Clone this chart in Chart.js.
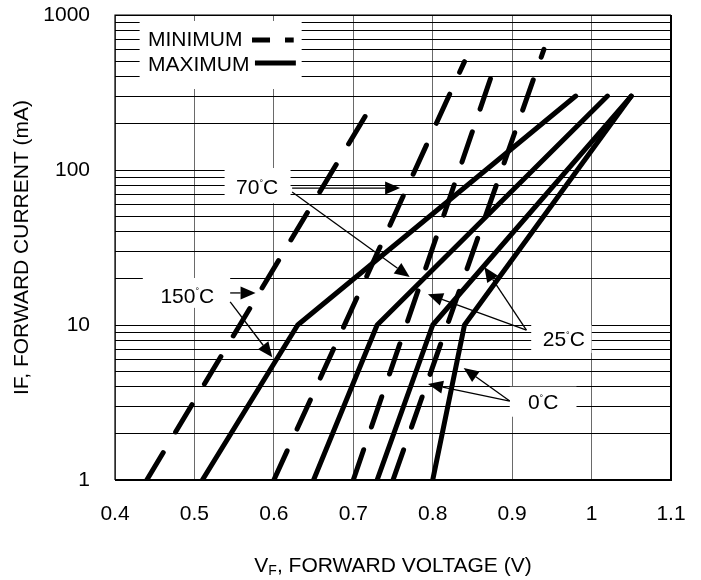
<!DOCTYPE html>
<html>
<head>
<meta charset="utf-8">
<script src="https://cdn.jsdelivr.net/npm/chart.js@4.4.0/dist/chart.umd.min.js"></script>
<style>
  html, body { margin: 0; padding: 0; background: #fff; }
</style>
</head>
<body>
<canvas id="vfChart" width="701" height="580"></canvas>
<script>
// forward voltage (V) vs forward current (mA), min (dashed) / max (solid) per temperature
const vfMin150 = [0.44, 0.72];
const ifMin150 = [1, 245];
const vfMax150 = [0.51, 0.63, 0.98];
const ifMax150 = [1, 10, 300];

const vfMin70 = [0.60, 0.84];
const ifMin70 = [1, 500];
const vfMax70 = [0.65, 0.73, 1.02];
const ifMax70 = [1, 10, 300];

const vfMin25 = [0.70, 0.875];
const ifMin25 = [1, 420];
const vfMax25 = [0.73, 0.80, 1.05];
const ifMax25 = [1, 10, 300];

const vfMin0 = [0.75, 0.94];
const ifMin0 = [1, 600];
const vfMax0 = [0.80, 0.84, 1.05];
const ifMax0 = [1, 10, 300];

const xTicks = [0.4, 0.5, 0.6, 0.7, 0.8, 0.9, 1.0, 1.1];
const yDecades = [1, 10, 100, 1000];

const tempLabels = ['150', '70', '25', '0'];
const legendLabels = ['MINIMUM', 'MAXIMUM'];

// annotation layout, in axis units (V, mA)
const labelAt = [[0.491, 15.2], [0.579, 76.5], [0.965, 8.0], [0.939, 3.13]];
const labelBox = [[0.435, 0.545, 12.9, 20.1], [0.538, 0.621, 61, 103], [0.924, 1.0, 6.6, 10], [0.897, 0.981, 2.56, 4.0]];
const arrows = [
  [[0.545, 16.1], [0.577, 16.1]], [[0.545, 14.1], [0.598, 6.2]],
  [[0.623, 76.5], [0.759, 76.5]], [[0.623, 72.1], [0.771, 20.4]],
  [[0.918, 9.28], [0.865, 23.7]], [[0.918, 9.28], [0.794, 15.8]],
  [[0.897, 3.23], [0.794, 4.16]], [[0.897, 3.23], [0.839, 5.28]]
];
const legendBox = [0.431, 0.635, 333, 915];

const FONT = '"Liberation Sans", Arial, sans-serif';
Chart.defaults.font.family = FONT;
Chart.defaults.font.size = 21;
Chart.defaults.color = '#000';

function pts(xs, ys) {
  return xs.map((x, i) => ({x: x, y: ys[i]}));
}

function curve(xs, ys, dashed) {
  return {
    data: pts(xs, ys),
    borderColor: '#000',
    borderWidth: 5,
    borderDash: dashed ? [32, 24] : [],
    borderCapStyle: 'round',
    borderJoinStyle: 'round',
    pointRadius: 0,
    fill: false,
    tension: 0,
    clip: 0
  };
}

// minor log grid: 1..9 in each decade
const yGrid = [];
yDecades.slice(0, -1).forEach(d => { for (let k = 1; k < 10; k++) yGrid.push(d * k); });
yGrid.push(yDecades[yDecades.length - 1]);

function arrow(ctx, x0, y0, x1, y1) {
  const a = Math.atan2(y1 - y0, x1 - x0);
  const hl = 15, hw = 6.5;
  ctx.beginPath();
  ctx.moveTo(x0, y0);
  ctx.lineTo(x1 - hl * Math.cos(a), y1 - hl * Math.sin(a));
  ctx.stroke();
  ctx.beginPath();
  ctx.moveTo(x1, y1);
  ctx.lineTo(x1 - hl * Math.cos(a) + hw * Math.sin(a), y1 - hl * Math.sin(a) - hw * Math.cos(a));
  ctx.lineTo(x1 - hl * Math.cos(a) - hw * Math.sin(a), y1 - hl * Math.sin(a) + hw * Math.cos(a));
  ctx.closePath();
  ctx.fill();
}

// "70°C" with a tiny raised degree ring, centred on (cx, cy)
function tempText(ctx, num, cx, cy) {
  const big = '21px ' + FONT, small = '9px ' + FONT;
  ctx.font = big;
  const wn = ctx.measureText(num).width, wc = ctx.measureText('C').width;
  ctx.font = small;
  const wd = ctx.measureText('°').width;
  let x = cx - (wn + wd + wc) / 2;
  ctx.textAlign = 'left';
  ctx.textBaseline = 'middle';
  ctx.font = big;
  ctx.fillText(num, x, cy);
  ctx.font = small;
  ctx.fillText('°', x + wn, cy - 5);
  ctx.font = big;
  ctx.fillText('C', x + wn + wd, cy);
}

const annoPlugin = {
  id: 'anno',
  beforeDatasetsDraw(chart) {
    const ctx = chart.ctx, xs = chart.scales.x, ys = chart.scales.y;
    ctx.save();
    ctx.fillStyle = '#fff';
    labelBox.concat([legendBox]).forEach(b => {
      const l = xs.getPixelForValue(b[0]), r = xs.getPixelForValue(b[1]);
      const t = ys.getPixelForValue(b[3]), bt = ys.getPixelForValue(b[2]);
      ctx.fillRect(l, t, r - l, bt - t);
    });
    ctx.restore();
  },
  afterDatasetsDraw(chart) {
    const ctx = chart.ctx, xs = chart.scales.x, ys = chart.scales.y;
    ctx.save();
    ctx.fillStyle = '#000';
    ctx.strokeStyle = '#000';
    tempLabels.forEach((t, i) => {
      tempText(ctx, t, xs.getPixelForValue(labelAt[i][0]), ys.getPixelForValue(labelAt[i][1]));
    });
    ctx.lineWidth = 1.3;
    arrows.forEach(a => {
      arrow(ctx, xs.getPixelForValue(a[0][0]), ys.getPixelForValue(a[0][1]),
        xs.getPixelForValue(a[1][0]), ys.getPixelForValue(a[1][1]));
    });

    // legend
    const lx = xs.getPixelForValue(0.4415);
    const y1 = ys.getPixelForValue(690), y2 = ys.getPixelForValue(476);
    ctx.font = '21px ' + FONT;
    ctx.textAlign = 'left';
    ctx.textBaseline = 'middle';
    ctx.fillText(legendLabels[0], lx, y1);
    ctx.fillText(legendLabels[1], lx, y2);
    ctx.lineWidth = 5;
    ctx.lineCap = 'butt';
    ctx.setLineDash([18, 15]);
    ctx.beginPath();
    ctx.moveTo(xs.getPixelForValue(0.5725), y1);
    ctx.lineTo(xs.getPixelForValue(0.625), y1);
    ctx.stroke();
    ctx.setLineDash([]);
    ctx.beginPath();
    ctx.moveTo(xs.getPixelForValue(0.5762), y2 - 2);
    ctx.lineTo(xs.getPixelForValue(0.6277), y2 - 2);
    ctx.stroke();
    ctx.restore();
  },
  afterDraw(chart) {
    const ctx = chart.ctx, ca = chart.chartArea;
    ctx.save();
    ctx.strokeStyle = '#000';
    ctx.lineWidth = 1.2;
    ctx.beginPath();
    ctx.moveTo(ca.left, ca.bottom);
    ctx.lineTo(ca.left, ca.top);
    ctx.lineTo(ca.right, ca.top);
    ctx.stroke();
    ctx.lineWidth = 2;
    ctx.beginPath();
    ctx.moveTo(ca.left, ca.bottom);
    ctx.lineTo(ca.right, ca.bottom);
    ctx.lineTo(ca.right, ca.top);
    ctx.stroke();

    // axis titles
    ctx.fillStyle = '#000';
    ctx.font = '21px ' + FONT;
    ctx.textBaseline = 'middle';
    ctx.textAlign = 'center';
    ctx.save();
    ctx.translate(22, (ca.top + ca.bottom) / 2);
    ctx.rotate(-Math.PI / 2);
    ctx.fillText('IF, FORWARD CURRENT (mA)', 0, 0);
    ctx.restore();

    ctx.textAlign = 'left';
    ctx.textBaseline = 'alphabetic';
    const big = '21px ' + FONT, small = '14px ' + FONT;
    const rest = ', FORWARD VOLTAGE (V)';
    ctx.font = big;
    const wV = ctx.measureText('V').width, wR = ctx.measureText(rest).width;
    ctx.font = small;
    const wF = ctx.measureText('F').width;
    let x = (ca.left + ca.right) / 2 - (wV + wF + wR) / 2;
    const base = 572;
    ctx.font = big;
    ctx.fillText('V', x, base);
    ctx.font = small;
    ctx.fillText('F', x + wV, base + 3);
    ctx.font = big;
    ctx.fillText(rest, x + wV + wF, base);
    ctx.restore();
  }
};

const datasets = [
  curve(vfMin150, ifMin150, true),
  curve(vfMax150, ifMax150, false),
  curve(vfMin70, ifMin70, true),
  curve(vfMax70, ifMax70, false),
  curve(vfMin25, ifMin25, true),
  curve(vfMax25, ifMax25, false),
  curve(vfMin0, ifMin0, true),
  curve(vfMax0, ifMax0, false)
];

const vfChart = new Chart(document.getElementById('vfChart'), {
  type: 'line',
  data: { datasets: datasets },
  options: {
    responsive: false,
    animation: false,
    devicePixelRatio: 1,
    layout: { padding: { top: 15, right: 30, left: 0, bottom: 0 } },
    plugins: { legend: { display: false }, tooltip: { enabled: false } },
    scales: {
      x: {
        type: 'linear',
        min: 0.4,
        max: 1.1,
        afterBuildTicks: s => { s.ticks = xTicks.map(v => ({value: v})); },
        afterFit: s => { s.height = 100; s.paddingLeft = 0; s.paddingRight = 0; },
        grid: { color: '#6a6a6a', lineWidth: 1, drawTicks: false },
        border: { display: false },
        ticks: {
          padding: 22,
          maxRotation: 0,
          autoSkip: false,
          callback: v => String(Number(v.toFixed(1)))
        }
      },
      y: {
        type: 'logarithmic',
        min: 1,
        max: 1000,
        afterBuildTicks: s => { s.ticks = yGrid.map(v => ({value: v})); },
        afterFit: s => { s.width = 115; s.paddingTop = 0; s.paddingBottom = 0; },
        grid: { color: '#000', lineWidth: 1, drawTicks: false },
        border: { display: false },
        ticks: {
          padding: 25,
          autoSkip: false,
          callback: v => yDecades.includes(v) ? String(v) : ''
        }
      }
    }
  },
  plugins: [annoPlugin]
});
</script>
</body>
</html>
